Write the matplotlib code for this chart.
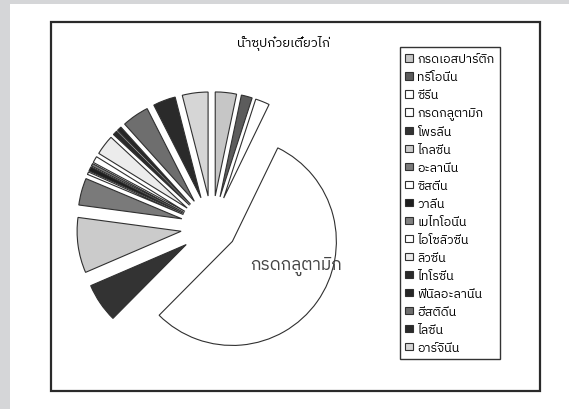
import matplotlib
matplotlib.use("Agg")
import matplotlib.pyplot as plt
from matplotlib import font_manager as fm
from matplotlib.patches import Rectangle

# ---------------- data ----------------
amino_acids = ["กรดเอสปาร์ติก", "ทรีโอนีน", "ซีรีน", "กรดกลูตามิก", "โพรลีน",
               "ไกลซีน", "อะลานีน", "ซิสตีน", "วาลีน", "เมไทโอนีน",
               "ไอโซลิวซีน", "ลิวซีน", "ไทโรซีน", "ฟีนิลอะลานีน", "ฮีสติดีน",
               "ไลซีน", "อาร์จินีน"]
values = [3.3, 1.7, 2.2, 55.3, 6.1, 8.6, 4.2, 0.4, 0.7, 0.4,
          1.0, 3.1, 0.7, 0.7, 4.2, 3.5, 4.0]
colors = ["#c6c6c6", "#5c5c5c", "#ffffff", "#ffffff", "#333333",
          "#cbcbcb", "#7a7a7a", "#ffffff", "#1e1e1e", "#808080",
          "#ffffff", "#ececec", "#2a2a2a", "#262626", "#6e6e6e",
          "#2a2a2a", "#d6d6d6"]
explode = [0.30, 0.30, 0.30, 0.24, 0.30, 0.30, 0.30, 0.30, 0.30, 0.30,
           0.30, 0.30, 0.30, 0.30, 0.30, 0.30, 0.30]
title = "น้ำซุปก๋วยเตี๋ยวไก่"
big_label = "กรดกลูตามิก"

# ---------------- font with Thai glyphs ----------------
def find_thai_font():
    try:
        from fontTools.ttLib import TTFont
    except Exception:
        return None
    seen = set()
    cands = []
    for f in fm.fontManager.ttflist:
        if f.fname in seen:
            continue
        seen.add(f.fname)
        try:
            tt = TTFont(f.fname, fontNumber=0, lazy=True)
            cmap = tt.getBestCmap()
            if cmap and 0x0E01 in cmap and 0x0E49 in cmap:
                cands.append(f.name)
        except Exception:
            pass
    pref = [n for n in cands if "Thai" in n and "Looped" not in n]
    if pref:
        return pref[0]
    return cands[0] if cands else None

thai = find_thai_font()
fams = ([thai] if thai else []) + ["DejaVu Sans"]
plt.rcParams["font.family"] = fams

# ---------------- figure ----------------
W, H = 569, 410
R = 104
fig = plt.figure(figsize=(W / 100, H / 100), dpi=100, facecolor="#d5d6d8")
ax = fig.add_axes([0, 0, 1, 1])

def py(y):  # pixel (top-down) -> data (bottom-up)
    return H - y

wedges, _ = ax.pie(values, colors=colors, explode=[e * R for e in explode],
                   startangle=90, counterclock=False, center=(212, py(228)),
                   radius=R,
                   wedgeprops=dict(edgecolor="#303030", linewidth=0.8))
ax.set_xlim(0, W)
ax.set_ylim(0, H)
ax.set_aspect("equal")
ax.axis("off")

# white page and chart frame
ax.add_patch(Rectangle((10, 0), W - 10, py(5), facecolor="white",
                       edgecolor="none", zorder=-10))
ax.add_patch(Rectangle((51, py(392)), 540 - 51, 392 - 23, facecolor="none",
                       edgecolor="#2a2a2a", linewidth=1.6, zorder=5))

ax.text(283, py(43), title, ha="center", va="center", fontsize=9.5,
        color="black")
ax.text(296, py(266), big_label, ha="center", va="center", fontsize=12.5,
        color="#444444")

leg = ax.legend(wedges, amino_acids, loc="upper left",
                bbox_to_anchor=(400 / W, 1 - 48 / H),
                bbox_transform=fig.transFigure, frameon=True, fancybox=False,
                edgecolor="black", fontsize=9, handlelength=0.6,
                handleheight=0.6, handletextpad=0.4, labelspacing=0.4,
                borderpad=0.4, borderaxespad=0)
leg.get_frame().set_linewidth(1.0)
leg.get_frame().set_facecolor("white")
for h in leg.legend_handles:
    h.set_edgecolor("#303030")
    h.set_linewidth(0.8)

fig.savefig("out.png", dpi=100, facecolor=fig.get_facecolor())
